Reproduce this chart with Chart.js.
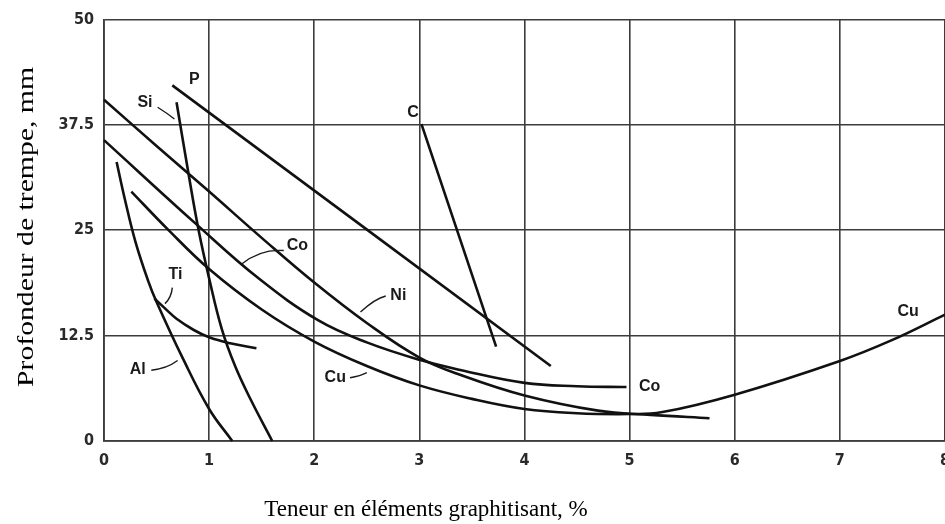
<!DOCTYPE html>
<html>
<head>
<meta charset="utf-8">
<script src="https://cdn.jsdelivr.net/npm/chart.js@4"></script>
<style>
  html, body { margin: 0; padding: 0; background: #fff; overflow: hidden; }
  .wrap { position: relative; width: 960px; height: 524px; }
</style>
</head>
<body>
<div class="wrap"><canvas id="chart"></canvas></div>
<script>
// tick labels
const xTicks = [0, 1, 2, 3, 4, 5, 6, 7, 8];
const yTicks = [0, 12.5, 25, 37.5, 50];

// curves: [teneur %, profondeur mm]
const phosphorus = [[0.65, 42.2], [4.25, 8.9]];
const silicon = [[0.69, 40.2], [0.8, 32], [0.9, 25], [1.0, 19.3], [1.12, 13.3], [1.25, 8.8], [1.4, 4.8], [1.6, 0]];
const carbon = [[3.02, 37.6], [3.73, 11.2]];
const cobalt = [[0, 35.7], [0.88, 25.7], [1.47, 19.3], [2.04, 14.3], [2.5, 11.7], [3.01, 9.6], [3.4, 8.4], [4, 6.9], [4.5, 6.5], [4.97, 6.4]];
const nickel = [[0, 40.5], [0.5, 35], [1, 29.6], [1.5, 24.1], [2, 18.8], [2.5, 14], [3, 9.9], [3.4, 7.8], [4, 5.4], [4.7, 3.6], [5.2, 3.1], [5.76, 2.7]];
const copper = [[0.26, 29.6], [0.6, 25.2], [1.0, 20.4], [1.5, 15.6], [2.0, 11.8], [2.5, 8.9], [3.0, 6.6], [3.5, 5.0], [4.0, 3.8], [4.5, 3.3], [5.0, 3.2], [5.3, 3.4], [6.0, 5.5], [7.0, 9.5], [7.5, 12.0], [8.0, 15.0]];
const titanium = [[0.48, 16.9], [0.6, 15.5], [0.69, 14.5], [0.85, 13.2], [1.0, 12.3], [1.2, 11.6], [1.45, 11.0]];
const aluminium = [[0.12, 33.1], [0.2, 28.6], [0.3, 23.6], [0.42, 19.0], [0.5, 16.5], [0.75, 9.8], [1.0, 3.8], [1.22, 0]];

const xTitle = "Teneur en éléments graphitisant, %";
const yTitle = "Profondeur de trempe, mm";

// element names on the curves, placed in data units; lead = start, bend, end of leader
const notes = [
  { text: "P", at: [0.86, 42.9] },
  { text: "Si", at: [0.39, 40.1], lead: [[0.51, 39.6], [0.6, 38.9], [0.67, 38.2]] },
  { text: "C", at: [2.94, 39.0] },
  { text: "Co", at: [1.84, 23.2], lead: [[1.71, 22.6], [1.49, 22.8], [1.31, 21.0]] },
  { text: "Ni", at: [2.8, 17.3], lead: [[2.68, 17.2], [2.58, 16.9], [2.44, 15.3]] },
  { text: "Ti", at: [0.68, 19.8], lead: [[0.65, 18.2], [0.64, 17.0], [0.58, 16.3]] },
  { text: "Al", at: [0.32, 8.5], lead: [[0.45, 8.4], [0.6, 8.6], [0.7, 9.55]] },
  { text: "Cu", at: [2.2, 7.5], lead: [[2.34, 7.5], [2.44, 7.7], [2.5, 8.1]] },
  { text: "Co", at: [5.19, 6.4] },
  { text: "Cu", at: [7.65, 15.4] },
];

const series = [phosphorus, silicon, carbon, cobalt, nickel, copper, titanium, aluminium];

const tickFont = { family: "'Liberation Sans Narrow', 'DejaVu Sans Condensed', 'Liberation Sans', sans-serif", size: 16, weight: "bold" };
const gridColor = "#3c3c3c";

const notesPlugin = {
  id: "notes",
  afterDraw(chart) {
    const ctx = chart.ctx;
    const xs = chart.scales.x;
    const ys = chart.scales.y;
    const px = (p) => [xs.getPixelForValue(p[0]), ys.getPixelForValue(p[1])];

    ctx.save();
    ctx.fillStyle = "#1a1a1a";
    ctx.strokeStyle = "#1a1a1a";
    ctx.lineWidth = 1.4;
    ctx.font = "bold 16px 'Liberation Sans', Arial, sans-serif";
    ctx.textAlign = "center";
    ctx.textBaseline = "middle";
    notes.forEach((n) => {
      const [x, y] = px(n.at);
      ctx.fillText(n.text, x, y);
      if (n.lead) {
        const a = px(n.lead[0]), b = px(n.lead[1]), c = px(n.lead[2]);
        ctx.beginPath();
        ctx.moveTo(a[0], a[1]);
        ctx.quadraticCurveTo(b[0], b[1], c[0], c[1]);
        ctx.stroke();
      }
    });

    // axis titles
    ctx.fillStyle = "#000";
    ctx.font = "23px 'Liberation Serif', 'Times New Roman', serif";
    ctx.textAlign = "center";
    ctx.textBaseline = "alphabetic";
    ctx.fillText(xTitle, 426, 516);

    ctx.translate(33, 227);
    ctx.rotate(-Math.PI / 2);
    const w = ctx.measureText(yTitle).width;
    ctx.scale(320 / w, 1);
    ctx.fillText(yTitle, 0, 0);
    ctx.restore();
  },
};

window.addEventListener("load", () => {
  new Chart(document.getElementById("chart"), {
    type: "scatter",
    data: {
      datasets: series.map((pts) => ({
        data: pts.map((p) => ({ x: p[0], y: p[1] })),
        showLine: true,
        borderColor: "#111",
        borderWidth: 2.6,
        pointRadius: 0,
        tension: 0.4,
        clip: false,
      })),
    },
    options: {
      responsive: true,
      maintainAspectRatio: false,
      animation: false,
      layout: { padding: { top: 17, right: 7, left: 0, bottom: 0 } },
      plugins: { legend: { display: false }, tooltip: { enabled: false } },
      scales: {
        x: {
          type: "linear",
          min: 0,
          max: 8,
          afterBuildTicks: (s) => { s.ticks = xTicks.map((v) => ({ value: v })); },
          afterFit: (s) => { s.height = 83; },
          ticks: { font: tickFont, color: "#2a2a2a", padding: 10 },
          grid: { color: gridColor, lineWidth: 1.6, drawTicks: false },
          border: { color: gridColor, width: 1.8 },
        },
        y: {
          type: "linear",
          min: 0,
          max: 50,
          afterBuildTicks: (s) => { s.ticks = yTicks.map((v) => ({ value: v })); },
          afterFit: (s) => { s.width = 104; },
          ticks: { font: tickFont, color: "#2a2a2a", padding: 10 },
          grid: { color: gridColor, lineWidth: 1.6, drawTicks: false },
          border: { color: gridColor, width: 1.8 },
        },
      },
    },
    plugins: [notesPlugin],
  });
});
</script>
</body>
</html>
